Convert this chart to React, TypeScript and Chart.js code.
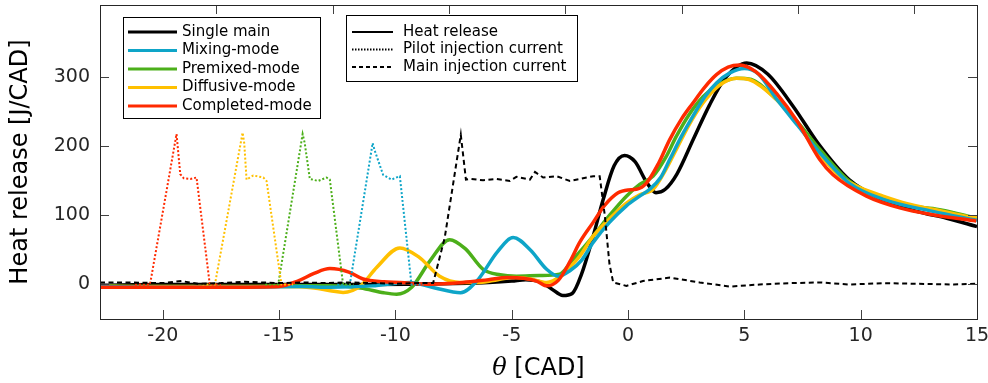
import { useEffect, useRef } from "react";
import { Chart, registerables } from "chart.js";

Chart.register(...registerables);

// Crank-angle window and heat-release range
const X_MIN = -22.7;
const X_MAX = 15;
const Y_MIN = -50;
const Y_MAX = 405;
const X_TICKS = [-20, -15, -10, -5, 0, 5, 10, 15];
const Y_TICKS = [0, 100, 200, 300];

const COLORS = {
  single: "#000000",
  mixing: "#0ea5c8",
  premixed: "#4caf1a",
  diffusive: "#ffc000",
  completed: "#ff2a00",
};

// Heat release [J/CAD] per strategy
const THETA_SINGLE = [-22.7, -20, -17, -14, -11, -8, -6, -5, -4.4, -3.8, -3.3, -2.8, -2.4, -2.0, -1.5, -1.07, -0.6, -0.15, 0.3, 0.8, 1.2, 1.6, 2.1, 2.8, 3.5, 4.2, 5.1, 6.0, 7.1, 8.2, 9.5, 11, 12.4, 13.7, 15];
const HR_SINGLE = [-1, 0, 0, 0, 0, 1, 3, 5, 7, 4, -6, -16, -13, 15, 70, 123, 172, 187, 178, 148, 133, 138, 160, 210, 260, 300, 321, 305, 258, 203, 152, 122, 106, 96, 84];

const THETA_MIXING = [-22.7, -20, -17, -14, -12.8, -11, -9.4, -8.3, -7.2, -6.5, -5.6, -4.94, -4.2, -3.5, -3.0, -2.5, -2.0, -1.5, -0.8, -0.07, 0.5, 0.93, 1.4, 1.79, 2.3, 2.79, 3.3, 3.8, 4.4, 5.0, 5.6, 6.4, 7.3, 8.24, 9.5, 11, 13.1, 15];
const HR_MIXING = [-3, -4, -4, -3, -4, -2, 3, -5, -12, 5, 48, 68, 50, 22, 12, 20, 35, 61, 90, 114, 128, 138, 155, 181, 215, 244, 272, 292, 307, 313, 305, 268, 230, 191, 147, 123, 106, 93];

const THETA_PREMIXED = [-22.7, -20, -17, -14, -12.8, -11.5, -10.5, -9.95, -9.3, -8.5, -7.67, -7.0, -6.23, -5.5, -4.8, -3.8, -2.94, -2.4, -2.0, -1.5, -0.8, -0.07, 0.5, 1.08, 1.6, 2.08, 2.6, 3.22, 3.9, 4.66, 5.3, 6.38, 7.3, 8.24, 9.5, 11, 12.3, 13.1, 14, 15];
const HR_PREMIXED = [-2, -3, -3, -2, -2, -5, -12, -14, -4, 35, 65, 52, 22, 14, 12, 13, 15, 35, 50, 70, 100, 128, 145, 157, 183, 215, 245, 272, 290, 299, 297, 268, 235, 196, 150, 125, 113, 110, 104, 96];

const THETA_DIFFUSIVE = [-22.7, -20, -17, -15, -13.5, -12.8, -12.25, -11.5, -10.8, -9.81, -9.0, -8.1, -7.2, -6.38, -5.6, -4.94, -4.2, -3.5, -2.9, -2.5, -2.08, -1.5, -0.8, -0.07, 0.5, 1.08, 1.6, 2.08, 2.6, 3.22, 3.9, 4.66, 5.2, 6.38, 7.3, 8.2, 9.1, 10, 10.96, 12, 13.1, 14.5, 15];
const HR_DIFFUSIVE = [-3, -3, -3, -3, -5, -9, -11.5, -2, 25, 53, 40, 12, 3, 3, 7, 10, 8, 3, 12, 25, 41, 70, 95, 118, 130, 138, 165, 196, 230, 263, 288, 299, 297, 268, 232, 190, 157, 140, 128, 117, 109, 99, 96];

const THETA_COMPLETED = [-22.7, -20, -17, -15, -14.2, -13.5, -12.82, -12.0, -11.39, -10.5, -9.81, -8.5, -7.1, -6.0, -5.2, -4.5, -3.93, -3.5, -3.0, -2.5, -2.08, -1.5, -1.0, -0.43, 0.0, 0.36, 0.79, 1.3, 1.79, 2.3, 2.79, 3.3, 3.8, 4.3, 4.8, 5.5, 6.38, 7.3, 8.24, 8.81, 10.25, 11.68, 13.1, 14.97];
const HR_COMPLETED = [-4, -4, -4, -3, 5, 16, 23, 18, 8, 4, 3, 0.5, 3, 7, 10, 9, 5, -2, 6, 33, 61, 90, 115, 133, 137, 138, 147, 175, 210, 240, 263, 286, 304, 315, 318, 308, 277, 235, 181, 159, 128, 111, 101, 92];

// Pilot injection current traces (scaled to the heat-release axis)
const THETA_PILOT_COMPLETED = [-21.2, -20.55, -19.41, -19.25, -19.1, -18.8, -18.55, -17.98, -17.5];
const CUR_PILOT_COMPLETED = [0, 0, 218, 160, 154, 153, 155, 0, 0];

const THETA_PILOT_DIFFUSIVE = [-18.3, -17.76, -16.57, -16.5, -16.4, -16.11, -15.68, -15.54, -14.9, -14.4];
const CUR_PILOT_DIFFUSIVE = [0, 0, 220, 205, 152, 158, 155, 150, 0, 0];

const THETA_PILOT_PREMIXED = [-15.6, -15.04, -13.99, -13.9, -13.68, -13.32, -12.96, -12.82, -12.25, -11.8];
const CUR_PILOT_PREMIXED = [0, 0, 218, 205, 153, 150, 155, 152, 0, 0];

const THETA_PILOT_MIXING = [-12.5, -11.96, -10.98, -10.9, -10.53, -10.17, -9.81, -9.31, -8.8];
const CUR_PILOT_MIXING = [0, 0, 205, 195, 159, 152, 157, 0, 0];

// Main injection current
const THETA_MAIN = [-22.7, -21.5, -20, -19.2, -18.5, -17.5, -16.5, -15, -14, -13, -12, -11, -10, -9, -8.38, -7.88, -7.19, -6.97, -6.8, -6.23, -5.66, -5.08, -4.8, -4.22, -4.0, -3.65, -3.08, -2.5, -2.08, -1.5, -1.22, -1.0, -0.8, -0.64, -0.07, 0.64, 1.79, 3.08, 4.37, 5.66, 7, 8.24, 9.5, 11, 12.5, 14, 15];
const CUR_MAIN = [3, 3, 2, 5, 1, 2, 4, 2, 3, 2, 3, 2, 1, 2, 2, 68, 217, 152, 153, 151, 153, 150, 156, 152, 163, 155, 157, 150, 153, 157, 157, 100, 30, 3, -2, 5, 10, 3, -3, 0, 2, 3, 0, 2, 1, 0, 1];

const MODE_LEGEND = [
  { label: "Single main", color: COLORS.single },
  { label: "Mixing-mode", color: COLORS.mixing },
  { label: "Premixed-mode", color: COLORS.premixed },
  { label: "Diffusive-mode", color: COLORS.diffusive },
  { label: "Completed-mode", color: COLORS.completed },
];
const STYLE_LEGEND = [
  { label: "Heat release", dash: [] as number[] },
  { label: "Pilot injection current", dash: [1.5, 1.5] },
  { label: "Main injection current", dash: [4, 3] },
];

const FONT = '"DejaVu Sans", Verdana, sans-serif';

const pts = (xs: number[], ys: number[]) => xs.map((x, i) => ({ x, y: ys[i] }));

const heatSet = (label: string, xs: number[], ys: number[], color: string, order: number) => ({
  label,
  data: pts(xs, ys),
  borderColor: color,
  borderWidth: 3.5,
  pointRadius: 0,
  cubicInterpolationMode: "monotone" as const,
  order,
});

const currentSet = (label: string, xs: number[], ys: number[], color: string, dash: number[]) => ({
  label,
  data: pts(xs, ys),
  borderColor: color,
  borderWidth: 2,
  borderDash: dash,
  pointRadius: 0,
  tension: 0,
  order: 0,
});

const noPad = (s: any) => {
  s.paddingLeft = 0;
  s.paddingRight = 0;
  s.paddingTop = 0;
  s.paddingBottom = 0;
};

const framePlugin = {
  id: "frame",
  afterDatasetsDraw(chart: any) {
    const { ctx, chartArea: a, scales } = chart;
    const xs = scales.x;
    const ys = scales.y;
    ctx.save();
    ctx.strokeStyle = "#404040";
    ctx.lineWidth = 1;
    ctx.setLineDash([]);
    const L = 9;
    ctx.beginPath();
    // bottom ticks
    for (const v of X_TICKS) {
      const px = Math.round(xs.getPixelForValue(v)) + 0.5;
      ctx.moveTo(px, a.bottom);
      ctx.lineTo(px, a.bottom - L);
    }
    // top ticks of the overlaid current axis (every 5 CAD from the window start)
    for (let k = 1; k * 5 + X_MIN < X_MAX; k++) {
      const px = Math.round(xs.getPixelForValue(X_MIN + 5 * k)) + 0.5;
      ctx.moveTo(px, a.top);
      ctx.lineTo(px, a.top + L);
    }
    for (const v of Y_TICKS) {
      const py = Math.round(ys.getPixelForValue(v)) + 0.5;
      ctx.moveTo(a.left, py);
      ctx.lineTo(a.left + L, py);
      ctx.moveTo(a.right, py);
      ctx.lineTo(a.right - L, py);
    }
    ctx.stroke();
    ctx.strokeStyle = "#262626";
    ctx.strokeRect(Math.round(a.left) + 0.5, Math.round(a.top) + 0.5, Math.round(a.right - a.left), Math.round(a.bottom - a.top));
    ctx.restore();
  },
  afterDraw(chart: any) {
    const { ctx, chartArea: a } = chart;
    ctx.save();
    ctx.fillStyle = "#000";

    // axis titles
    const sym = "θ";
    const rest = " [CAD]";
    ctx.font = `italic 24px "DejaVu Serif", serif`;
    const w1 = ctx.measureText(sym).width;
    ctx.font = `24px ${FONT}`;
    const w2 = ctx.measureText(rest).width;
    const cx = (a.left + a.right) / 2;
    let x0 = cx - (w1 + w2) / 2;
    ctx.textBaseline = "alphabetic";
    ctx.textAlign = "left";
    ctx.font = `italic 24px "DejaVu Serif", serif`;
    ctx.fillText(sym, x0, 375);
    ctx.font = `24px ${FONT}`;
    ctx.fillText(rest, x0 + w1, 375);

    ctx.translate(21, (a.top + a.bottom) / 2);
    ctx.rotate(-Math.PI / 2);
    ctx.textAlign = "center";
    ctx.textBaseline = "middle";
    ctx.fillText("Heat release [J/CAD]", 0, 0);
    ctx.setTransform(1, 0, 0, 1, 0, 0);

    // strategy legend
    ctx.font = `15px ${FONT}`;
    ctx.textAlign = "left";
    ctx.textBaseline = "middle";
    ctx.fillStyle = "#fff";
    ctx.fillRect(123, 17, 197, 101);
    ctx.strokeStyle = "#000";
    ctx.lineWidth = 1;
    ctx.strokeRect(123.5, 17.5, 197, 101);
    MODE_LEGEND.forEach((e, i) => {
      const y = 32 + i * 18.5;
      ctx.strokeStyle = e.color;
      ctx.lineWidth = 3;
      ctx.beginPath();
      ctx.moveTo(128, y);
      ctx.lineTo(177, y);
      ctx.stroke();
      ctx.fillStyle = "#000";
      ctx.fillText(e.label, 182, y);
    });

    // line-style legend
    ctx.fillStyle = "#fff";
    ctx.fillRect(346, 15, 231, 66);
    ctx.strokeStyle = "#000";
    ctx.lineWidth = 1;
    ctx.strokeRect(346.5, 15.5, 231, 66);
    STYLE_LEGEND.forEach((e, i) => {
      const y = 32 + i * 17.5;
      ctx.strokeStyle = "#000";
      ctx.lineWidth = 2;
      ctx.setLineDash(e.dash);
      ctx.beginPath();
      ctx.moveTo(352, y);
      ctx.lineTo(393, y);
      ctx.stroke();
      ctx.setLineDash([]);
      ctx.fillStyle = "#000";
      ctx.fillText(e.label, 403, y);
    });
    ctx.restore();
  },
};

export default function App() {
  const ref = useRef<HTMLCanvasElement | null>(null);

  useEffect(() => {
    if (!ref.current) return;
    const chart = new Chart(ref.current, {
      type: "line",
      data: {
        datasets: [
          currentSet("Main injection current", THETA_MAIN, CUR_MAIN, "#000", [5, 3.5]),
          currentSet("Pilot Completed", THETA_PILOT_COMPLETED, CUR_PILOT_COMPLETED, COLORS.completed, [2, 2]),
          currentSet("Pilot Diffusive", THETA_PILOT_DIFFUSIVE, CUR_PILOT_DIFFUSIVE, COLORS.diffusive, [2, 2]),
          currentSet("Pilot Premixed", THETA_PILOT_PREMIXED, CUR_PILOT_PREMIXED, COLORS.premixed, [2, 2]),
          currentSet("Pilot Mixing", THETA_PILOT_MIXING, CUR_PILOT_MIXING, COLORS.mixing, [2, 2]),
          heatSet("Completed-mode", THETA_COMPLETED, HR_COMPLETED, COLORS.completed, 1),
          heatSet("Mixing-mode", THETA_MIXING, HR_MIXING, COLORS.mixing, 2),
          heatSet("Diffusive-mode", THETA_DIFFUSIVE, HR_DIFFUSIVE, COLORS.diffusive, 3),
          heatSet("Premixed-mode", THETA_PREMIXED, HR_PREMIXED, COLORS.premixed, 4),
          heatSet("Single main", THETA_SINGLE, HR_SINGLE, COLORS.single, 5),
        ] as any,
      },
      options: {
        animation: false,
        responsive: false,
        events: [],
        layout: { padding: { left: 0, right: 11, top: 5, bottom: 0 } },
        plugins: { legend: { display: false }, tooltip: { enabled: false } },
        scales: {
          x: {
            type: "linear",
            min: X_MIN,
            max: X_MAX,
            afterBuildTicks: (s: any) => {
              s.ticks = X_TICKS.map((value) => ({ value }));
            },
            afterFit: (s: any) => {
              s.height = 64;
              noPad(s);
            },
            grid: { display: false, drawTicks: false },
            border: { display: false },
            ticks: {
              padding: 6,
              color: "#262626",
              font: { family: FONT, size: 19 },
              callback: (v: any) => String(v),
            },
          },
          y: {
            type: "linear",
            min: Y_MIN,
            max: Y_MAX,
            afterBuildTicks: (s: any) => {
              s.ticks = Y_TICKS.map((value) => ({ value }));
            },
            afterFit: (s: any) => {
              s.width = 100;
              noPad(s);
            },
            grid: { display: false, drawTicks: false },
            border: { display: false },
            ticks: {
              padding: 10,
              color: "#262626",
              font: { family: FONT, size: 19 },
              callback: (v: any) => String(v),
            },
          },
        },
      },
      plugins: [framePlugin],
    });
    return () => chart.destroy();
  }, []);

  return (
    <div style={{ position: "absolute", left: 0, top: 0, width: 988, height: 383, background: "#fff" }}>
      <canvas ref={ref} width={988} height={383} style={{ display: "block" }} />
    </div>
  );
}
